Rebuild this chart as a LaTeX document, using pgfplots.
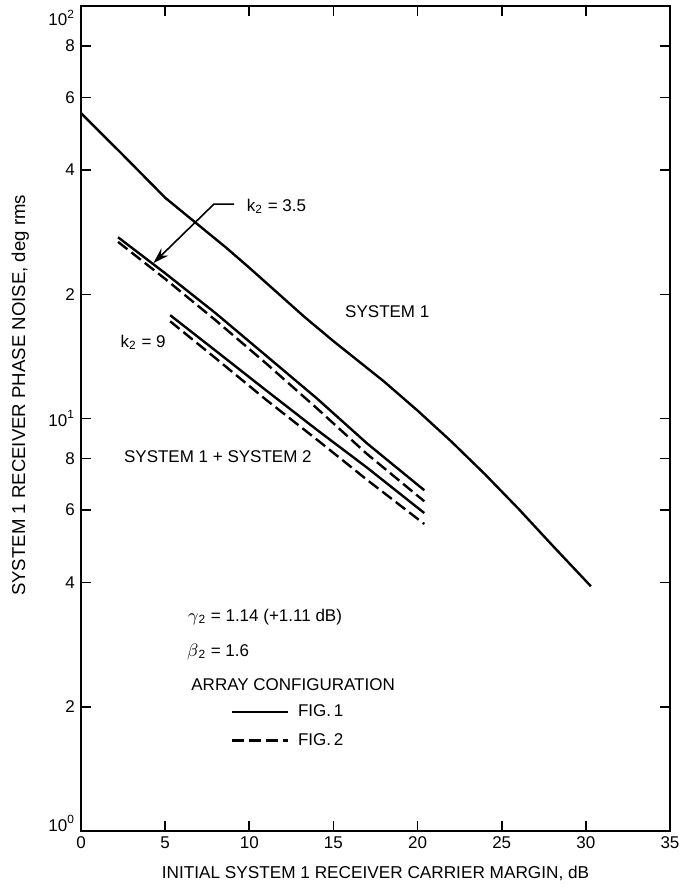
\documentclass[border=0pt]{standalone}
\usepackage{fontspec}
\setmainfont{Liberation Sans}
\usepackage{pgfplots}
\pgfplotsset{compat=1.18}
\usetikzlibrary{arrows.meta}

\begin{document}
\fontsize{8.5bp}{10bp}\selectfont
\begin{tikzpicture}
\begin{axis}[
  scale only axis, width=294.5bp, height=412.5bp,
  xmin=0, xmax=35, ymode=log, ymin=1, ymax=100,
  xtick={0,5,...,35},
  ytick={1,2,4,6,8,10,20,40,60,80,100},
  yticklabels={\smash{10\textsuperscript{0}},2,4,6,8,10\textsuperscript{1},2,4,6,8,\smash{\raisebox{-10bp}{10\textsuperscript{2}}}},
  yminorticks=false, xminorticks=false,
  /pgf/number format/assume math mode=true,
  tick style={black, line width=0.8bp},
  major tick length=5bp,
  axis line style={line width=1bp},
  tick label style={font=\fontsize{8.5bp}{10bp}\selectfont},
  xlabel={INITIAL SYSTEM 1 RECEIVER CARRIER MARGIN, dB},
  ylabel={SYSTEM 1 RECEIVER PHASE NOISE, deg rms},
  every axis x label/.style={at={(axis description cs:0.5,-0.051)}, anchor=center, font=\fontsize{8.6bp}{10bp}\selectfont},
  every axis y label/.style={at={(axis description cs:-0.103,0.528)}, rotate=90, anchor=center, font=\fontsize{9.3bp}{10bp}\selectfont},
  clip=false,
  legend image code/.code={\draw[#1] (0bp,0bp) -- (28bp,0bp);},
  legend style={at={(axis description cs:0.2535,0.158)}, anchor=north west, draw=none, fill=none,
    inner sep=0pt, row sep=3bp, font=\fontsize{8.5bp}{10bp}\selectfont},
  legend cell align=left,
]
\addlegendimage{line width=1.2bp}
\addlegendentry{\hspace{2.5bp}FIG.\,1}
\addlegendimage{line width=1.2bp, dash pattern=on 6bp off 2.5bp}
\addlegendentry{\hspace{2.5bp}FIG.\,2}

% System 1
\addplot[forget plot, line width=1.2bp] coordinates {
 (0,55) (2.5,43.5) (5,34.3) (7,29.4) (8.6,26) (10,23.2) (13.3,17.6) (15,15.4)
 (18,12.3) (20,10.45) (22,8.8) (24,7.33) (26,6.04) (28,4.93) (30.3,3.92)};
% k2 = 3.5
\addplot[forget plot, line width=1.2bp] coordinates {
 (2.2,27.5) (5,22.5) (8,18.0) (11,14.2) (14,11.2) (17,8.7) (20.4,6.7)};
\addplot[forget plot, line width=1.2bp, dash pattern=on 6bp off 2.5bp] coordinates {
 (2.2,26.8) (5,21.8) (8,17.3) (11,13.6) (14,10.6) (17,8.2) (20.4,6.3)};
% k2 = 9
\addplot[forget plot, line width=1.2bp] coordinates {
 (5.3,17.8) (8,14.6) (11,11.7) (14,9.4) (17,7.6) (20.4,5.9)};
\addplot[forget plot, line width=1.2bp, dash pattern=on 6bp off 2.5bp] coordinates {
 (5.3,17.2) (8,14.0) (11,11.1) (14,8.9) (17,7.1) (20.4,5.55)};

\draw[line width=0.8bp, -{Stealth[length=8bp,width=5bp]}] (axis cs:9.1,33.1) -- (axis cs:7.9,33.1) -- (axis cs:4.3,23.8);
\node[anchor=west, yshift=-1bp] at (axis cs:9.5,33.1) {k\textsubscript{2} = 3.5};
\node[anchor=west] at (axis cs:2.0,15.3) {k\textsubscript{2} = 9};
\node at (axis cs:18.2,18.2) {SYSTEM 1};
\node[anchor=west] at (axis cs:2.2,8.1) {SYSTEM 1 + SYSTEM 2};
\node[anchor=west] at (axis cs:6.0,3.3) {$\gamma$\textsubscript{2} = 1.14 (+1.11 dB)};
\node[anchor=west] at (axis cs:5.95,2.72) {$\beta$\textsubscript{2} = 1.6};
\node[anchor=west] at (axis cs:6.2,2.26) {ARRAY CONFIGURATION};
\end{axis}
\pgfresetboundingbox
\path ([shift={(-40.5bp,-30bp)}]current axis.south west) rectangle ([shift={(8bp,3bp)}]current axis.north east);
\end{tikzpicture}
\end{document}
